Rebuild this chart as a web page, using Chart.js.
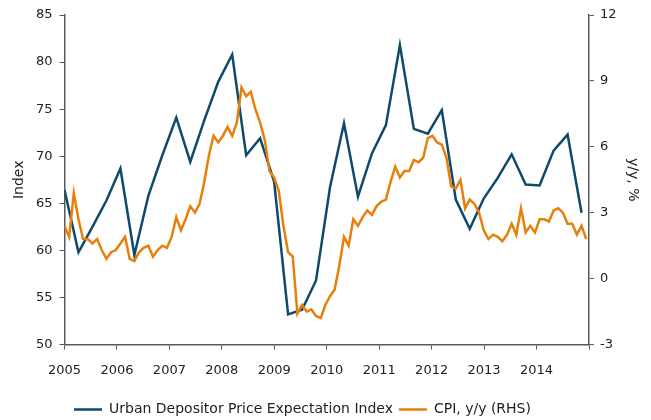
<!DOCTYPE html>
<html>
<head>
<meta charset="utf-8">
<script src="https://cdn.jsdelivr.net/npm/chart.js@4.4.1/dist/chart.umd.min.js"></script>
<style>
html,body{margin:0;padding:0;background:#fff;}
#wrap{width:651px;height:420px;position:relative;}
</style>
</head>
<body>
<div id="wrap"><canvas id="c" width="651" height="420"></canvas></div>
<script>
// Year labels on the x axis
const yearLabels = ['2005','2006','2007','2008','2009','2010','2011','2012','2013','2014'];
// Urban Depositor Price Expectation Index, quarterly, Q4 2004 .. Q1 2014
const expectIndex = [66.4, 59.8, 62.5, 65.3, 68.7, 59.5, 65.8, 70.1, 74.1, 69.4, 73.8, 77.9,
  80.8, 70.1, 71.9, 67.3, 53.2, 53.7, 56.8, 66.7, 73.5, 65.7, 70.3, 73.3,
  81.8, 72.9, 72.4, 74.9, 65.4, 62.3, 65.5, 67.7, 70.2, 67.0, 66.9, 70.6, 72.3, 64.0];
// CPI y/y %, monthly, Dec 2004 .. Apr 2014
const cpiYoY = [2.4,
  1.9, 3.9, 2.7, 1.8, 1.8, 1.6, 1.8, 1.3, 0.9, 1.2, 1.3, 1.6,
  1.9, 0.9, 0.8, 1.2, 1.4, 1.5, 1.0, 1.3, 1.5, 1.4, 1.9, 2.8,
  2.2, 2.7, 3.3, 3.0, 3.4, 4.4, 5.6, 6.5, 6.2, 6.5, 6.9, 6.5,
  7.1, 8.7, 8.3, 8.5, 7.7, 7.1, 6.3, 4.9, 4.6, 4.0, 2.4, 1.2,
  1.0, -1.6, -1.2, -1.5, -1.4, -1.7, -1.8, -1.2, -0.8, -0.5, 0.6, 1.9,
  1.5, 2.7, 2.4, 2.8, 3.1, 2.9, 3.3, 3.5, 3.6, 4.4, 5.1, 4.6,
  4.9, 4.9, 5.4, 5.3, 5.5, 6.4, 6.5, 6.2, 6.1, 5.5, 4.2, 4.1,
  4.5, 3.2, 3.6, 3.4, 3.0, 2.2, 1.8, 2.0, 1.9, 1.7, 2.0, 2.5,
  2.0, 3.2, 2.1, 2.4, 2.1, 2.7, 2.7, 2.6, 3.1, 3.2, 3.0, 2.5,
  2.5, 2.0, 2.4, 1.8];

const MONTHS_PER_QUARTER = 3;
const X_MAX = 112.6;           // axis span in months (Dec 2004 = 0)
const BLUE = '#0d4a6b';
const ORANGE = '#e6800a';
const AXIS = '#595959';
const TXT = '#222222';
const FAMILY = '"DejaVu Sans", Verdana, sans-serif';
const FONT = {family: FAMILY, size: 13};
const FONT_BIG = {family: FAMILY, size: 14};

const blueData = expectIndex.map((v, i) => ({x: i * MONTHS_PER_QUARTER, y: v}));
const orangeData = cpiYoY.map((v, i) => ({x: i, y: v}));

Chart.defaults.font = FONT;
Chart.defaults.color = TXT;

const legendShift = {
  id: 'legendShift',
  afterLayout(chart) {
    const lg = chart.legend;
    if (lg) { lg.left -= 23; lg.right -= 23; lg.top += 2; lg.bottom += 2; }
  }
};

new Chart(document.getElementById('c'), {
  type: 'line',
  plugins: [legendShift],
  data: {
    datasets: [
      {label: 'Urban Depositor Price Expectation Index', data: blueData, yAxisID: 'y',
       borderColor: BLUE, backgroundColor: BLUE, borderWidth: 2.5, pointRadius: 0, tension: 0, order: 1},
      {label: 'CPI, y/y (RHS)', data: orangeData, yAxisID: 'y1',
       borderColor: ORANGE, backgroundColor: ORANGE, borderWidth: 2.5, pointRadius: 0, tension: 0, order: 0}
    ]
  },
  options: {
    responsive: false,
    animation: false,
    events: [],
    layout: {padding: {top: 15, left: 0, right: 0, bottom: -4.5}},
    plugins: {
      tooltip: {enabled: false},
      legend: {
        position: 'bottom',
        labels: {
          boxWidth: 28, boxHeight: 2.5, padding: 6, color: TXT, font: FONT_BIG,
          sort: (a, b) => a.datasetIndex - b.datasetIndex,
          generateLabels: (chart) => Chart.defaults.plugins.legend.labels.generateLabels(chart)
            .map(it => Object.assign(it, {lineWidth: 0}))
        }
      }
    },
    scales: {
      x: {
        type: 'linear', min: 0, max: X_MAX,
        afterBuildTicks: (s) => {
          const t = [];
          for (let k = 0; k <= yearLabels.length; k++) t.push({value: k * X_MAX / yearLabels.length});
          s.ticks = t;
        },
        afterFit: (s) => { s.height = 50; },
        grid: {display: true, drawOnChartArea: false, drawTicks: true, tickLength: 5, tickColor: AXIS, tickWidth: 1},
        border: {display: true, color: AXIS, width: 1.5},
        ticks: {
          autoSkip: false, maxRotation: 0, padding: 13, color: TXT, font: FONT,
          callback: (v, i) => (i < yearLabels.length ? yearLabels[i] : '')
        }
      },
      y: {
        position: 'left', min: 50, max: 85,
        afterFit: (s) => { s.width = 64.5; },
        grid: {display: true, drawOnChartArea: false, drawTicks: true, tickLength: 5, tickColor: AXIS, tickWidth: 1},
        border: {display: true, color: AXIS, width: 1.5},
        ticks: {stepSize: 5, padding: 7, color: TXT, font: FONT},
        title: {display: true, text: 'Index', color: TXT, font: FONT_BIG, padding: {top: 11, bottom: 0}}
      },
      y1: {
        position: 'right', min: -3, max: 12,
        afterFit: (s) => { s.width = 62; },
        grid: {display: true, drawOnChartArea: false, drawTicks: true, tickLength: 5, tickColor: AXIS, tickWidth: 1},
        border: {display: true, color: AXIS, width: 1.5},
        ticks: {stepSize: 3, padding: 6, color: TXT, font: FONT},
        title: {display: true, text: 'y/y, %', color: TXT, font: FONT_BIG, padding: {top: 10, bottom: 0}}
      }
    }
  }
});
</script>
</body>
</html>
